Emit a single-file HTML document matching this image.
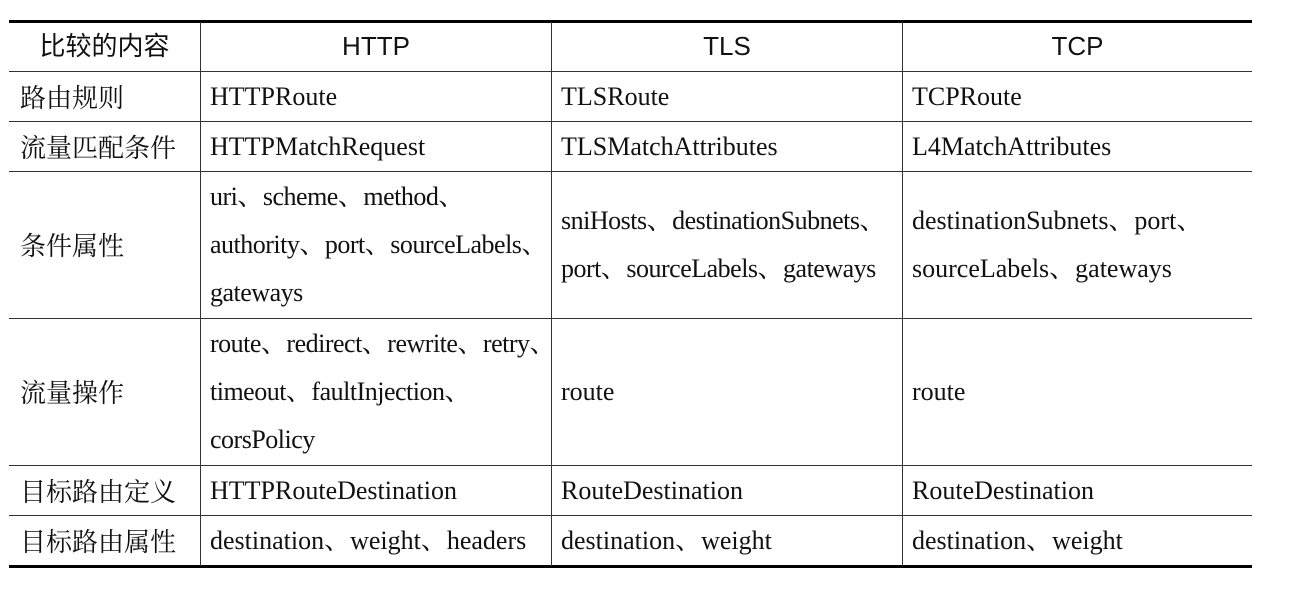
<!DOCTYPE html>
<html><head><meta charset="utf-8"><style>
body{margin:0;background:#fff;width:1308px;height:598px;position:relative;overflow:hidden}
.h,.v{position:absolute;background:#333}
.t{position:absolute;font-family:"Liberation Serif","Noto Serif CJK SC",serif;font-size:26px;color:#111;white-space:nowrap;line-height:48px}
.c{font-family:"Noto Serif CJK SC",serif;font-size:26px}
.n{letter-spacing:-0.5px}
.hd{position:absolute;font-family:"Liberation Sans","Noto Sans CJK SC",sans-serif;font-size:26px;color:#111;white-space:nowrap;text-align:center;line-height:28px}
</style></head><body>
<div class="h" style="left:9px;top:20px;width:1243px;height:3px;background:#000"></div>
<div class="h" style="left:9px;top:71px;width:1243px;height:1px"></div>
<div class="h" style="left:9px;top:121px;width:1243px;height:1px"></div>
<div class="h" style="left:9px;top:171px;width:1243px;height:1px"></div>
<div class="h" style="left:9px;top:318px;width:1243px;height:1px"></div>
<div class="h" style="left:9px;top:465px;width:1243px;height:1px"></div>
<div class="h" style="left:9px;top:515px;width:1243px;height:1px"></div>
<div class="h" style="left:9px;top:565px;width:1243px;height:3px;background:#000"></div>
<div class="v" style="left:200px;top:22px;width:1px;height:544px"></div>
<div class="v" style="left:551px;top:22px;width:1px;height:544px"></div>
<div class="v" style="left:902px;top:22px;width:1px;height:544px"></div>

<div class="hd" style="left:9px;top:32px;width:191px">比较的内容</div>
<div class="hd" style="left:201px;top:32px;width:350px">HTTP</div>
<div class="hd" style="left:552px;top:32px;width:350px">TLS</div>
<div class="hd" style="left:903px;top:32px;width:349px">TCP</div>

<div class="t c" style="left:20px;top:73px">路由规则</div>
<div class="t" style="left:210px;top:73px">HTTPRoute</div>
<div class="t" style="left:561px;top:73px">TLSRoute</div>
<div class="t" style="left:912px;top:73px">TCPRoute</div>

<div class="t c" style="left:20px;top:123px">流量匹配条件</div>
<div class="t" style="left:210px;top:123px">HTTPMatchRequest</div>
<div class="t" style="left:561px;top:123px">TLSMatchAttributes</div>
<div class="t" style="left:912px;top:123px">L4MatchAttributes</div>

<div class="t c" style="left:20px;top:221px">条件属性</div>
<div class="t n" style="left:210px;top:173px">uri、scheme、method、<br>authority、port、sourceLabels、<br>gateways</div>
<div class="t n" style="left:561px;top:197px">sniHosts、destinationSubnets、<br>port、sourceLabels、gateways</div>
<div class="t" style="left:912px;top:197px">destinationSubnets、port、<br>sourceLabels、gateways</div>

<div class="t c" style="left:20px;top:368px">流量操作</div>
<div class="t n" style="left:210px;top:320px">route、redirect、rewrite、retry、<br>timeout、faultInjection、<br>corsPolicy</div>
<div class="t" style="left:561px;top:368px">route</div>
<div class="t" style="left:912px;top:368px">route</div>

<div class="t c" style="left:20px;top:467px">目标路由定义</div>
<div class="t" style="left:210px;top:467px">HTTPRouteDestination</div>
<div class="t" style="left:561px;top:467px">RouteDestination</div>
<div class="t" style="left:912px;top:467px">RouteDestination</div>

<div class="t c" style="left:20px;top:517px">目标路由属性</div>
<div class="t" style="left:210px;top:517px">destination、weight、headers</div>
<div class="t" style="left:561px;top:517px">destination、weight</div>
<div class="t" style="left:912px;top:517px">destination、weight</div>
</body></html>
